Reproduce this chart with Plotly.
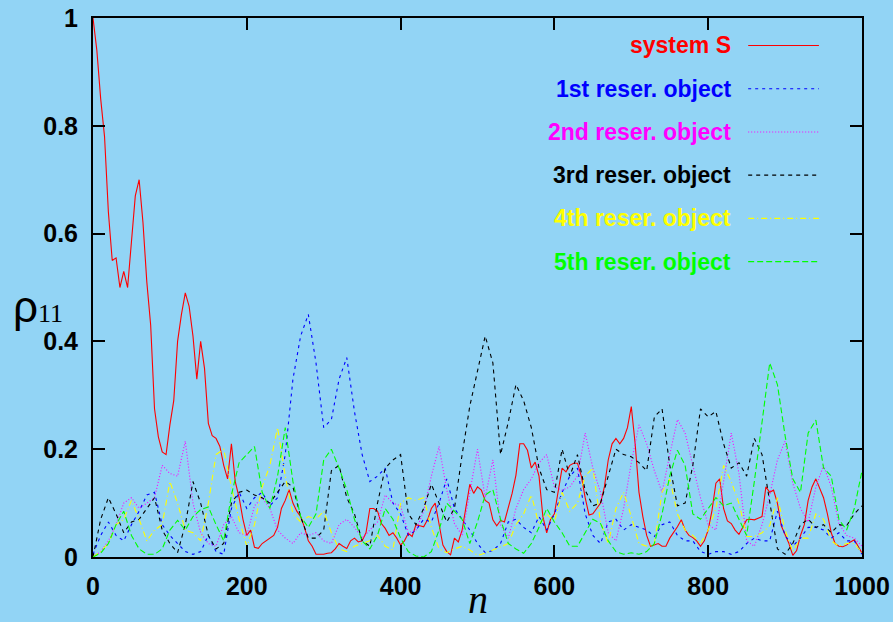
import plotly.graph_objects as go

# time steps
n = list(range(0, 1001, 10))
n_s = list(range(0, 1001, 5))

system_s = [1.0, 0.94, 0.85, 0.78, 0.64, 0.55, 0.555, 0.50, 0.53, 0.50,
            0.585, 0.67, 0.70, 0.62, 0.51, 0.43, 0.275, 0.223, 0.195, 0.19,
            0.245, 0.29, 0.40, 0.45, 0.49, 0.465, 0.41, 0.33, 0.40, 0.35,
            0.248, 0.225, 0.22, 0.205, 0.17, 0.145, 0.21, 0.14, 0.11, 0.07,
            0.04, 0.05, 0.018, 0.016, 0.025, 0.03, 0.035, 0.04, 0.055, 0.09,
            0.105, 0.125, 0.10, 0.085, 0.075, 0.055, 0.03, 0.02, 0.005, 0.005,
            0.005, 0.007, 0.008, 0.015, 0.025, 0.02, 0.016, 0.03, 0.035, 0.028,
            0.03, 0.045, 0.09, 0.09, 0.085, 0.062, 0.053, 0.04, 0.045, 0.035,
            0.022, 0.03, 0.044, 0.038, 0.06, 0.058, 0.056, 0.069, 0.09, 0.10,
            0.062, 0.022, 0.01, 0.004, 0.035, 0.028, 0.05, 0.09, 0.135, 0.118,
            0.13, 0.124, 0.105, 0.10, 0.069, 0.058, 0.068, 0.065, 0.09, 0.118,
            0.152, 0.21, 0.21, 0.198, 0.165, 0.176, 0.15, 0.075, 0.045, 0.07,
            0.08, 0.125, 0.165, 0.158, 0.17, 0.174, 0.174, 0.15, 0.11, 0.078,
            0.08, 0.09, 0.10, 0.13, 0.18, 0.21, 0.22, 0.21, 0.22, 0.24,
            0.279, 0.21, 0.12, 0.075, 0.04, 0.02, 0.022, 0.025, 0.02, 0.02,
            0.035, 0.045, 0.056, 0.069, 0.05, 0.04, 0.036, 0.03, 0.02, 0.03,
            0.05, 0.087, 0.137, 0.145, 0.09, 0.067, 0.062, 0.05, 0.042, 0.055,
            0.069, 0.07, 0.069, 0.072, 0.075, 0.13, 0.12, 0.124, 0.10, 0.058,
            0.04, 0.025, 0.003, 0.012, 0.04, 0.06, 0.105, 0.13, 0.145, 0.128,
            0.11, 0.08, 0.045, 0.025, 0.02, 0.019, 0.022, 0.028, 0.032, 0.02,
            0.007]

reser1 = [0.005, 0.04, 0.065, 0.04, 0.03, 0.06, 0.085, 0.115, 0.12, 0.06,
          0.04, 0.025, 0.01, 0.005, 0.01, 0.04, 0.01, 0.005, 0.09, 0.12,
          0.09, 0.11, 0.12, 0.095, 0.11, 0.19, 0.33, 0.41, 0.45, 0.36,
          0.24, 0.255, 0.33, 0.37, 0.27, 0.19, 0.14, 0.15, 0.165, 0.10,
          0.08, 0.04, 0.05, 0.07, 0.065, 0.10, 0.145, 0.09, 0.07, 0.05,
          0.025, 0.008, 0.012, 0.025, 0.065, 0.07, 0.055, 0.045, 0.075, 0.05,
          0.08, 0.12, 0.15, 0.165, 0.08, 0.04, 0.025, 0.065, 0.07, 0.05,
          0.06, 0.055, 0.05, 0.038, 0.06, 0.065, 0.04, 0.03, 0.03, 0.01,
          0.005, 0.01, 0.01, 0.005, 0.01, 0.025, 0.035, 0.03, 0.03, 0.085,
          0.04, 0.02, 0.035, 0.055, 0.055, 0.05, 0.035, 0.045, 0.03, 0.03,
          0.005]

reser2 = [0.0, 0.01, 0.03, 0.06, 0.10, 0.11, 0.09, 0.10, 0.11, 0.17,
          0.155, 0.15, 0.215, 0.10, 0.045, 0.025, 0.02, 0.06, 0.075, 0.045,
          0.04, 0.095, 0.11, 0.09, 0.05, 0.035, 0.025, 0.045, 0.04, 0.045,
          0.03, 0.025, 0.06, 0.07, 0.055, 0.035, 0.05, 0.065, 0.115, 0.10,
          0.095, 0.045, 0.05, 0.085, 0.15, 0.205, 0.125, 0.062, 0.04, 0.12,
          0.20, 0.11, 0.18, 0.06, 0.035, 0.09, 0.125, 0.145, 0.175, 0.19,
          0.13, 0.124, 0.13, 0.15, 0.23, 0.165, 0.12, 0.045, 0.03, 0.09,
          0.175, 0.245, 0.21, 0.16, 0.12, 0.19, 0.255, 0.23, 0.17, 0.11,
          0.06, 0.05, 0.14, 0.23, 0.155, 0.03, 0.02, 0.06, 0.115, 0.18,
          0.215, 0.137, 0.09, 0.065, 0.13, 0.17, 0.13, 0.062, 0.04, 0.035,
          0.02]

reser3 = [0.0, 0.07, 0.11, 0.08, 0.045, 0.065, 0.07, 0.09, 0.11, 0.05,
          0.025, 0.008, 0.06, 0.14, 0.10, 0.04, 0.015, 0.025, 0.10, 0.12,
          0.124, 0.115, 0.11, 0.10, 0.12, 0.14, 0.13, 0.075, 0.035, 0.035,
          0.05, 0.16, 0.17, 0.11, 0.08, 0.03, 0.02, 0.10, 0.165, 0.18,
          0.19, 0.08, 0.06, 0.09, 0.135, 0.10, 0.065, 0.09, 0.19, 0.28,
          0.345, 0.41, 0.36, 0.19, 0.25, 0.32, 0.29, 0.24, 0.165, 0.125,
          0.12, 0.20, 0.15, 0.19, 0.124, 0.095, 0.10, 0.15, 0.20, 0.19,
          0.186, 0.175, 0.16, 0.26, 0.275, 0.17, 0.095, 0.10, 0.17, 0.275,
          0.26, 0.27, 0.21, 0.165, 0.175, 0.15, 0.22, 0.19, 0.10, 0.015,
          0.005, 0.025, 0.06, 0.07, 0.055, 0.06, 0.045, 0.06, 0.058, 0.08,
          0.095]

reser4 = [0.0, 0.01, 0.025, 0.06, 0.07, 0.105, 0.07, 0.03, 0.05, 0.06,
          0.14, 0.10, 0.05, 0.045, 0.03, 0.10, 0.19, 0.20, 0.13, 0.07,
          0.02, 0.06, 0.13, 0.17, 0.24, 0.15, 0.08, 0.065, 0.075, 0.07,
          0.085, 0.045, 0.015, 0.01, 0.02, 0.025, 0.03, 0.04, 0.02, 0.013,
          0.10, 0.11, 0.105, 0.11, 0.055, 0.015, 0.008, 0.015, 0.02, 0.013,
          0.003, 0.007, 0.013, 0.02, 0.025, 0.06, 0.08, 0.115, 0.06, 0.08,
          0.065, 0.12, 0.085, 0.10, 0.15, 0.165, 0.065, 0.025, 0.09, 0.12,
          0.075, 0.025, 0.02, 0.025, 0.12, 0.145, 0.08, 0.05, 0.04, 0.025,
          0.05, 0.09, 0.17, 0.14, 0.10, 0.038, 0.038, 0.045, 0.058, 0.11,
          0.05, 0.01, 0.035, 0.035, 0.08, 0.07, 0.03, 0.02, 0.025, 0.025,
          0.008]

reser5 = [0.0, 0.007, 0.025, 0.06, 0.085, 0.04, 0.015, 0.005, 0.005, 0.015,
          0.05, 0.068, 0.05, 0.075, 0.088, 0.093, 0.06, 0.03, 0.115, 0.175,
          0.19, 0.205, 0.12, 0.09, 0.15, 0.24, 0.14, 0.075, 0.055, 0.08,
          0.18, 0.20, 0.165, 0.125, 0.07, 0.03, 0.015, 0.04, 0.09, 0.07,
          0.035, 0.01, 0.002, 0.0, 0.01, 0.05, 0.10, 0.085, 0.07, 0.025,
          0.065, 0.115, 0.125, 0.07, 0.025, 0.015, 0.007, 0.025, 0.055, 0.09,
          0.065, 0.045, 0.02, 0.02, 0.045, 0.07, 0.062, 0.03, 0.01, 0.005,
          0.008, 0.005, 0.01, 0.025, 0.08, 0.15, 0.198, 0.17, 0.08, 0.07,
          0.09, 0.11, 0.095, 0.10, 0.07, 0.04, 0.14, 0.25, 0.36, 0.32,
          0.225, 0.145, 0.12, 0.23, 0.254, 0.165, 0.15, 0.07, 0.05, 0.09,
          0.16]

names = ["system S", "1st reser. object", "2nd reser. object",
         "3rd reser. object", "4th reser. object", "5th reser. object"]
series = [system_s, reser1, reser2, reser3, reser4, reser5]
xs = [n_s, n, n, n, n, n]
colors = ["#ff0000", "#0000ff", "#ff00ff", "#000000", "#ffff00", "#00ff00"]
dashes = ["solid", "3px,4px", "1px,2px", "4px,4px", "6px,3px,1px,3px", "6px,3px"]

x_ticks = [0, 200, 400, 600, 800, 1000]
y_ticks = [0, 0.2, 0.4, 0.6, 0.8, 1]
y_ticktext = ["0", "0.2", "0.4", "0.6", "0.8", "1"]

bg = "#92d4f5"

fig = go.Figure()
for name, xv, vals, col, dsh in zip(names, xs, series, colors, dashes):
    fig.add_trace(go.Scatter(x=xv, y=vals, mode="lines", name=name,
                             line=dict(color=col, width=1.1, dash=dsh),
                             showlegend=False, hoverinfo="skip"))

# legend drawn as text + samples (text on the left, sample on the right)
row0 = 0.949
step = 0.0802
tx = 0.832
lx0, lx1 = 0.852, 0.944
for i, (name, col, dsh) in enumerate(zip(names, colors, dashes)):
    yy = row0 - i * step
    fig.add_annotation(x=tx, y=yy, xref="paper", yref="paper", text=name,
                       showarrow=False, xanchor="right", yanchor="middle",
                       font=dict(family="Liberation Sans, Arial", size=23, color=col,
                                 weight="bold"))
    fig.add_shape(type="line", xref="paper", yref="paper", x0=lx0, x1=lx1, y0=yy, y1=yy,
                  line=dict(color=col, width=1.1, dash=dsh))

# axis titles
fig.add_annotation(x=-0.072, y=0.465, xref="paper", yref="paper",
                   text="ρ<span style='font-family:Liberation Serif, Times New Roman;font-size:26px'>11</span>",
                   showarrow=False, xanchor="center", yanchor="middle",
                   font=dict(family="Liberation Sans, Arial", size=44, color="black"))
fig.add_annotation(x=0.5, y=-0.0773, xref="paper", yref="paper", text="<i>n</i>",
                   showarrow=False, xanchor="center", yanchor="middle", height=30,
                   font=dict(family="Liberation Serif, Times New Roman", size=40, color="black"))

tickfont = dict(family="Liberation Sans, Arial", size=25, color="black", weight="bold")
fig.update_xaxes(range=[0, 1000], tickvals=x_ticks, ticks="inside", ticklen=12,
                 tickwidth=1.5, tickcolor="black", showline=True, linecolor="black",
                 linewidth=2, mirror="ticks", showgrid=False, zeroline=False,
                 tickfont=tickfont, ticklabelstandoff=6, automargin=False)
fig.update_yaxes(range=[0, 1], tickvals=y_ticks, ticktext=y_ticktext, ticks="inside",
                 ticklen=12, tickwidth=1.5, tickcolor="black", showline=True,
                 linecolor="black", linewidth=2, mirror="ticks", showgrid=False,
                 zeroline=False, tickfont=tickfont, ticklabelstandoff=8, automargin=False)
fig.update_layout(width=893, height=622, paper_bgcolor=bg, plot_bgcolor=bg,
                  margin=dict(l=93, r=31, t=18, b=65, autoexpand=False), showlegend=False)

fig.write_html("out.html")
